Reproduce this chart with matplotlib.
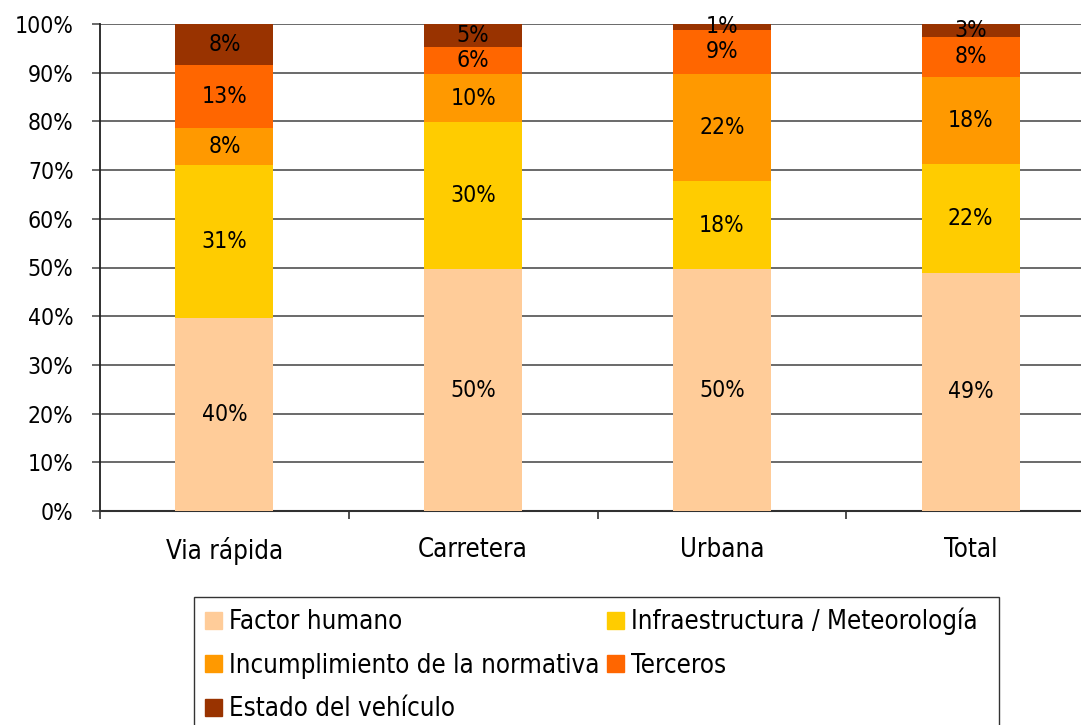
import matplotlib
matplotlib.use('Agg')
from matplotlib import pyplot as plt
from matplotlib.patches import Rectangle, Patch
from matplotlib.ticker import FixedLocator, PercentFormatter

categories = ['Via rápida', 'Carretera', 'Urbana', 'Total']
series_names = ['Factor humano', 'Infraestructura / Meteorología',
                'Incumplimiento de la normativa', 'Terceros', 'Estado del vehículo']
factor_humano = [39.7, 49.6, 49.6, 48.9]
infraestructura = [31.4, 30.3, 18.1, 22.4]
incumplimiento = [7.6, 9.8, 22.1, 17.9]
terceros = [12.8, 5.6, 9.0, 8.1]
estado = [8.4, 4.7, 1.2, 2.7]
colors = ['#FFCC99', '#FFCC00', '#FF9900', '#FF6600', '#993300']

plt.rcParams['font.family'] = 'DejaVu Sans'
plt.rcParams['font.stretch'] = 'condensed'

W, H = 1081, 725
fig = plt.figure(figsize=(W / 100, H / 100), dpi=100)
ax = fig.add_axes([100 / W, (H - 511) / H, 995 / W, 487 / H])

fs = 16.5    # numbers
fs_txt = 18.5  # words
x = range(len(categories))
bottom = [0] * len(categories)
for vals, c in zip([factor_humano, infraestructura, incumplimiento, terceros, estado], colors):
    ax.bar(x, vals, width=0.394, bottom=bottom, color=c, zorder=3)
    for i, v in enumerate(vals):
        ax.text(i, bottom[i] + v / 2, f'{round(v)}%', ha='center', va='center',
                fontsize=fs, zorder=4)
    bottom = [b + v for b, v in zip(bottom, vals)]

ax.set_xlim(-0.5, 3.5)
ax.set_ylim(0, 100)
ax.set_yticks(range(0, 101, 10))
ax.yaxis.set_major_formatter(PercentFormatter(decimals=0))
ax.grid(axis='y', color='#505050', lw=1.2, zorder=1)
ax.set_xticks(list(x))
ax.set_xticklabels(categories)
ax.xaxis.set_minor_locator(FixedLocator([-0.5, 0.5, 1.5, 2.5, 3.5]))
ax.tick_params(axis='x', which='major', length=0, pad=19, labelsize=fs_txt)
ax.tick_params(axis='x', which='minor', length=6, width=1.2, color='#303030')
ax.tick_params(axis='y', length=6, width=1.2, color='#505050', pad=13, labelsize=fs)
for s in ['top', 'right']:
    ax.spines[s].set_visible(False)
ax.spines['left'].set_color('#202020')
ax.spines['left'].set_linewidth(1.3)
ax.spines['bottom'].set_color('#303030')
ax.spines['bottom'].set_linewidth(1.5)

# legend box runs past the bottom of the image
fig.patches.append(Rectangle((194 / W, -0.1), (999 - 194) / W, (H - 597) / H + 0.1,
                             transform=fig.transFigure, fill=False, edgecolor='#333333',
                             lw=1.0))
handles = [Patch(color=c) for c in colors]
order = [0, 2, 4, 1, 3]
fig.legend([handles[i] for i in order], [series_names[i] for i in order], ncol=2,
           loc='upper left', bbox_to_anchor=(194 / W, (H - 597) / H), frameon=False,
           fontsize=fs_txt, handlelength=0.66, handleheight=0.62, handletextpad=0.28,
           borderpad=0.42, borderaxespad=0, labelspacing=0.68, columnspacing=0.3)

fig.savefig('out.png', dpi=100)
